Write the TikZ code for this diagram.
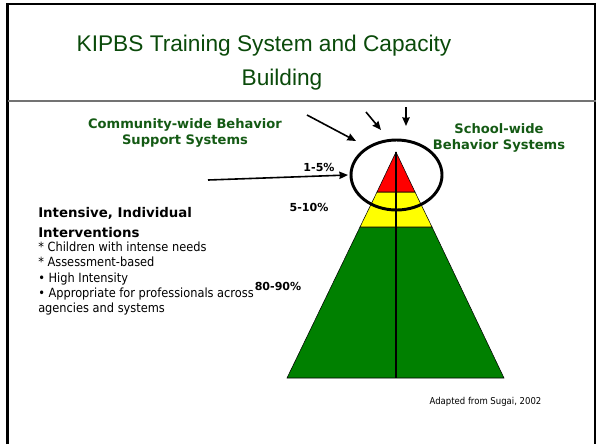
\documentclass[tikz,border=0pt]{standalone}
\usepackage{fontspec}
\usetikzlibrary{arrows.meta}
\setmainfont{DejaVu Sans}
\newfontfamily\titlefont{Liberation Sans}
\newfontfamily\smallfont{DejaVu Sans Condensed}
\definecolor{titlegreen}{RGB}{10,74,10}
\definecolor{lblgreen}{RGB}{20,90,20}
\definecolor{tiergreen}{RGB}{0,128,0}
\definecolor{tierred}{RGB}{255,0,0}
\definecolor{tieryellow}{RGB}{255,255,0}

\begin{document}
\begin{tikzpicture}
[x=0.75pt, y=-0.75pt, >={Stealth[length=6.5pt, width=5.5pt, inset=0.5pt]},
 point/.style={coordinate},
 arr/.style={->, line width=1.2pt},
 tier/.style={draw=black, line width=0.4pt},
 grnlbl/.style={text=lblgreen, font=\bfseries\fontsize{9.8}{12.5}\selectfont, align=center, inner sep=0},
 pct/.style={font=\bfseries\fontsize{8.3}{9}\selectfont, inner sep=0}]
\useasboundingbox (0,0) rectangle (596,444);
% frame
\draw [line width=2.2pt] (7.5,444) -- (7.5,4) -- (596,4);
\draw [line width=0.8pt] (595,4) -- (595,444);
\draw [line width=1.1pt, black!55] (8,101) -- (596,101);
% title
\node (title) [text=titlegreen, font=\titlefont\fontsize{17}{20}\selectfont, inner sep=0] at (264,46) {KIPBS Training System and Capacity};
\node (title2) [text=titlegreen, font=\titlefont\fontsize{17}{20}\selectfont, inner sep=0] at (282,80) {Building};
% pyramid
\draw [tier, fill=tiergreen] (360,227) -- (287,378) -- (504,378) -- (432,227) -- cycle;
\draw [tier, fill=tieryellow] (377,192) -- (360,227) -- (432,227) -- (415,192) -- cycle;
\draw [tier, fill=tierred] (396,152) -- (377,192) -- (415,192) -- cycle;
\node (apex) [point] at (396,152) {};
\node (base) [point] at (396,378) {};
\draw [line width=0.8pt] (apex) -- (base);
\draw [line width=2.2pt] (396.5,175) ellipse [x radius=45.5, y radius=35];
% labels
\node (comm) [grnlbl] at (185,133) {Community-wide Behavior\\Support Systems};
\node (school) [grnlbl] at (499,138) {School-wide\\Behavior Systems};
\node (p1) [pct] at (319,167) {1-5\%};
\node (p2) [pct] at (309,207) {5-10\%};
\node (p3) [pct] at (278,286) {80-90\%};
\node (int) [anchor=west, align=left, inner sep=0, font=\bfseries\fontsize{10}{14.3}\selectfont] at (38,222.5) {Intensive, Individual\\Interventions};
\node (list) [anchor=west, align=left, inner sep=0, font=\smallfont\fontsize{9.5}{11.5}\selectfont] at (38,278.5) {* Children with intense needs\\* Assessment-based\\• High Intensity\\• Appropriate for professionals across\\agencies and systems};
\node (src) [font=\smallfont\fontsize{7.1}{8}\selectfont, inner sep=0] at (485.5,402) {Adapted from Sugai, 2002};
% arrows
\node (a1s) [point] at (208,180) {};
\node (a1e) [point] at (348,175) {};
\node (a2s) [point] at (307,115) {};
\node (a2e) [point] at (356,141) {};
\node (a3s) [point] at (366,112) {};
\node (a3e) [point] at (381,130) {};
\node (a4s) [point] at (406,107) {};
\node (a4e) [point] at (406,126) {};
\path (a1s) edge [arr] (a1e);
\path (a2s) edge [arr] (a2e);
\path (a3s) edge [arr] (a3e);
\path (a4s) edge [arr] (a4e);
\end{tikzpicture}
\end{document}
